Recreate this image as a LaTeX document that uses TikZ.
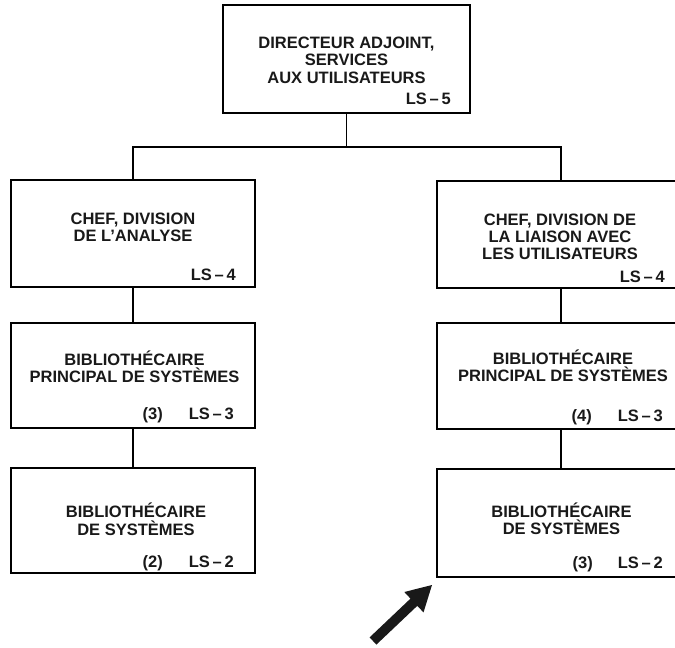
\documentclass[tikz,border=0pt]{standalone}
\usepackage{fontspec}
\setmainfont{Liberation Sans}
\begin{document}
\begin{tikzpicture}[x=1pt,y=-1pt,
  box/.style={draw=black, line width=1.4pt, rectangle, inner sep=0pt},
  txt/.style={font=\fontsize{16.5}{17.5}\selectfont\bfseries, anchor=base, inner sep=0pt, text=black!90},
  grade/.style={txt, anchor=base east},
  link/.style={draw=black, line width=1.3pt}]
\useasboundingbox (0,0) rectangle (675,648);
\fill[white] (0,0) rectangle (675,648);
\clip (0,0) rectangle (675,648);

% boxes
\node[box, minimum width=247pt, minimum height=108pt] (top) at (346.5,59) {};
\node[box, minimum width=244pt, minimum height=107pt] (l1) at (133,233.5) {};
\node[box, minimum width=244pt, minimum height=105pt] (l2) at (133,375.5) {};
\node[box, minimum width=244pt, minimum height=105pt] (l3) at (133,520.5) {};
\node[box, minimum width=248pt, minimum height=107pt] (r1) at (561,234.5) {};
\node[box, minimum width=248pt, minimum height=106pt] (r2) at (561,376) {};
\node[box, minimum width=248pt, minimum height=108pt] (r3) at (561,523) {};

% top text
\node[txt] (t1) at (346.5,48) {DIRECTEUR ADJOINT,};
\node[txt] (t2) at (346.5,65.5) {SERVICES};
\node[txt] (t3) at (346.5,83) {AUX UTILISATEURS};
\node[grade] (tg) at (451,104) {LS\,–\,5};

% left column
\node[txt] (l1a) at (133,224) {CHEF, DIVISION};
\node[txt] (l1b) at (133,241.5) {DE L’ANALYSE};
\node[grade] (l1g) at (236,280) {LS\,–\,4};

\node[txt] (l2a) at (134.5,365) {BIBLIOTHÉCAIRE};
\node[txt] (l2b) at (134.5,382.5) {PRINCIPAL DE SYSTÈMES};
\node[grade] (l2n) at (163,419) {(3)};
\node[grade] (l2g) at (234,419) {LS\,–\,3};

\node[txt] (l3a) at (136,517.5) {BIBLIOTHÉCAIRE};
\node[txt] (l3b) at (136,535) {DE SYSTÈMES};
\node[grade] (l3n) at (163,567) {(2)};
\node[grade] (l3g) at (234,567) {LS\,–\,2};

% right column
\node[txt] (r1a) at (560,225) {CHEF, DIVISION DE};
\node[txt] (r1b) at (560,242) {LA LIAISON AVEC};
\node[txt] (r1c) at (560,259) {LES UTILISATEURS};
\node[grade] (r1g) at (665,282) {LS\,–\,4};

\node[txt] (r2a) at (563,364) {BIBLIOTHÉCAIRE};
\node[txt] (r2b) at (563,381.5) {PRINCIPAL DE SYSTÈMES};
\node[grade] (r2n) at (592,421) {(4)};
\node[grade] (r2g) at (663,421) {LS\,–\,3};

\node[txt] (r3a) at (561.5,517) {BIBLIOTHÉCAIRE};
\node[txt] (r3b) at (561.5,534.5) {DE SYSTÈMES};
\node[grade] (r3n) at (593,568) {(3)};
\node[grade] (r3g) at (663,568) {LS\,–\,2};

% connectors
\coordinate (j) at (346.5,147);
\draw[link] (top.south) -- (j);
\draw[link] (l1.north) |- (j) -| (r1.north);
\draw[link] (l1.south) -- (l2.north);
\draw[link] (l2.south) -- (l3.north);
\draw[link] (r1.south) -- (r2.north);
\draw[link] (r2.south) -- (r3.north);

% pointing arrow
\fill[black!90] (376.4,644.6) -- (417.3,605.8) -- (423.5,612.4) -- (432,585)
  -- (404.3,592) -- (410.5,598.6) -- (369.6,637.4) -- cycle;
\end{tikzpicture}
\end{document}
